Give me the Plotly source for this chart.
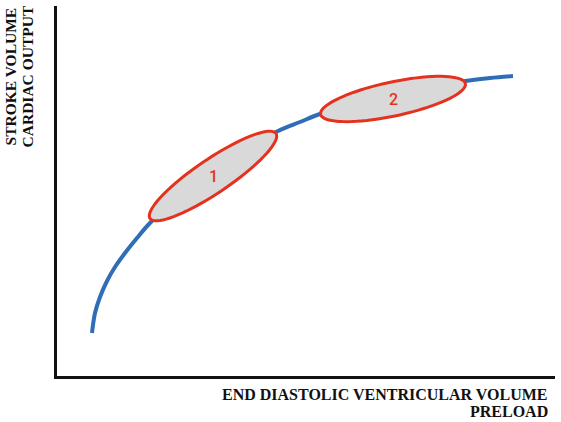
import numpy as np
import plotly.graph_objects as go

# Frank-Starling curve (units = plot-area pixels)
curve_x = [35, 38, 43, 50, 58, 68, 80, 93, 123, 158, 193, 221, 243, 263, 303, 343, 383, 408, 433, 456]
curve_y = [43, 63, 79, 95, 109, 123, 138, 153, 180, 208, 230, 245, 254, 262, 274, 284, 290, 295, 298, 300]

# ellipses: label, centre x, centre y, half length, half width, tilt (deg)
zone_labels = ["1", "2"]
zone_cx = [156, 336]
zone_cy = [200, 277]
zone_a = [76, 74]
zone_b = [17, 17]
zone_tilt = [34, 12]

x_title = ["END DIASTOLIC VENTRICULAR VOLUME", "PRELOAD"]
y_title = ["STROKE VOLUME", "CARDIAC OUTPUT"]

BLUE = "#2F6DB7"
RED = "#E5321F"
SERIF = "Liberation Serif, Times New Roman, serif"


def ellipse_path(cx, cy, a, b, tilt, n=80):
    t = np.linspace(0, 2 * np.pi, n)
    th = np.radians(tilt)
    xs = cx + a * np.cos(t) * np.cos(th) - b * np.sin(t) * np.sin(th)
    ys = cy + a * np.cos(t) * np.sin(th) + b * np.sin(t) * np.cos(th)
    pts = [f"{x:.2f},{y:.2f}" for x, y in zip(xs, ys)]
    return "M " + " L ".join(pts) + " Z"


fig = go.Figure()
fig.add_trace(go.Scatter(x=curve_x, y=curve_y, mode="lines",
                         line=dict(color=BLUE, width=4, shape="spline", smoothing=1),
                         hoverinfo="skip", showlegend=False))

for lab, cx, cy, a, b, tilt in zip(zone_labels, zone_cx, zone_cy, zone_a, zone_b, zone_tilt):
    fig.add_shape(type="path", path=ellipse_path(cx, cy, a, b, tilt),
                  xref="x", yref="y", fillcolor="#D9D9D9",
                  line=dict(color=RED, width=3), layer="above")
    fig.add_annotation(x=cx, y=cy, text=lab, showarrow=False,
                       font=dict(family="Roboto, Arial, sans-serif", size=16, color=RED, weight=500))

# y-axis title: two rotated lines
for i, txt in enumerate(y_title):
    fig.add_annotation(xref="paper", yref="paper", x=-0.094 + i * 0.034, y=0.81,
                       xanchor="center", yanchor="middle", text=f"<b>{txt}</b>",
                       textangle=-90, showarrow=False,
                       font=dict(family=SERIF, size=15.5, color="#111"))

# x-axis title: two right-aligned lines
for i, txt in enumerate(x_title):
    fig.add_annotation(xref="paper", yref="paper", x=0.99, y=-0.051 - i * 0.046,
                       xanchor="right", yanchor="middle", text=f"<b>{txt}</b>",
                       showarrow=False,
                       font=dict(family=SERIF, size=16, color="#111"))

fig.update_xaxes(range=[0, 498], showline=True, linecolor="#111", linewidth=2.5,
                 showgrid=False, zeroline=False, showticklabels=False, ticks="")
fig.update_yaxes(range=[0, 370], showline=True, linecolor="#111", linewidth=2.5,
                 showgrid=False, zeroline=False, showticklabels=False, ticks="")
fig.update_layout(width=561, height=422, margin=dict(l=57, r=6, t=6, b=46),
                  plot_bgcolor="white", paper_bgcolor="white")

fig.write_html("out.html", config={"displayModeBar": False},
               post_script="document.body.style.margin='0';")
